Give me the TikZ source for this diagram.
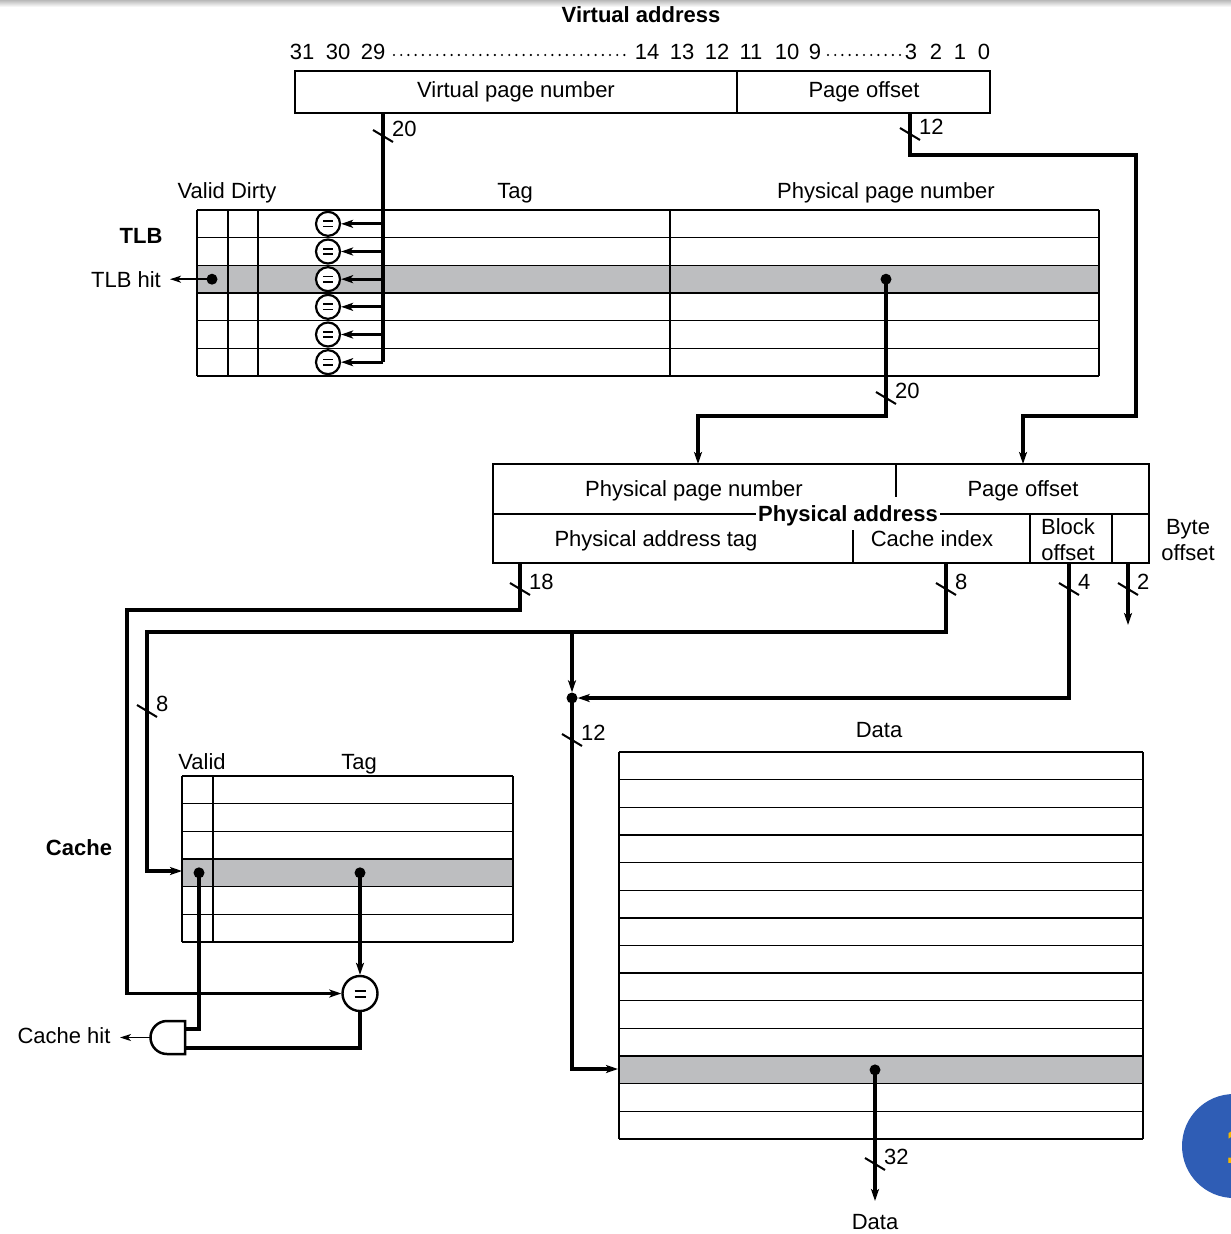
\documentclass[tikz,border=0pt]{standalone}
\usepackage{fontspec}
\setmainfont{Liberation Sans}
\usetikzlibrary{arrows.meta}
\definecolor{rowgray}{RGB}{189,190,192}
\definecolor{badgeblue}{RGB}{47,93,181}
\definecolor{badgeyellow}{RGB}{245,184,0}
\newcommand\busmark[4]{%
  \draw[bus] ({#1-10},{#2-6}) -- ({#1+10},{#2+6});
  \node[lab, anchor=west] (#4) at ({#1+9},{#2-8}) {#3};}
\begin{document}
\begin{tikzpicture}[x=1pt,y=-1pt,
  font=\fontsize{22}{26}\selectfont,
  lab/.style={inner sep=0pt, text height=16pt, text depth=0pt},
  blab/.style={lab, font=\fontsize{22}{26}\selectfont\bfseries},
  conn/.style={line width=3.2pt},
  tabl/.style={line width=1.4pt},
  bus/.style={line width=2pt},
  arr/.style={conn, -{Stealth[length=12pt,width=8pt,inset=3pt]}},
  tarr/.style={line width=1.8pt, -{Stealth[length=11pt,width=7pt,inset=3pt]}},
  bigdot/.style={circle, fill=black, inner sep=0pt, minimum size=11pt},
  eqc/.style={circle, draw, line width=2.2pt, inner sep=0pt, minimum size=24pt, fill=white,
    path picture={\draw[line width=1.8pt]
      ([shift={(-4.8pt,2.6pt)}]path picture bounding box.center) -- ++(9.6pt,0pt)
      ([shift={(-4.8pt,-2.6pt)}]path picture bounding box.center) -- ++(9.6pt,0pt);}},
]
\useasboundingbox (0,0) rectangle (1231,1234);
\fill[white] (0,0) rectangle (1231,1234);
\shade[top color=gray!55, bottom color=white] (0,0) rectangle (1231,7);

% ---------------- Virtual address ----------------
\node[blab] (vatitle) at (641,15) {Virtual address};
\foreach \n/\x in {31/302,30/338,29/373,14/647,13/682,12/717,11/751,10/787,9/815,3/911,2/936,1/960,0/984}
  \node[lab] (b\n) at (\x,51) {\n};
\draw[line width=2.4pt, line cap=round, dash pattern=on 0pt off 7.2pt] (394,55) -- (628,55);
\draw[line width=2.4pt, line cap=round, dash pattern=on 0pt off 7.2pt] (828,55) -- (901,55);
\draw[tabl] (295,71) rectangle (990,113);
\draw[tabl] (737,71) -- (737,113);
\node[lab] (vpn) at (516,89) {Virtual page number};
\node[lab] (vpo) at (864,89) {Page offset};
\coordinate (vpnout) at (383,113);
\coordinate (vpoout) at (910,113);

% ---------------- TLB ----------------
\node[lab] (tlbvd) at (227,190) {Valid Dirty};
\node[lab] (tlbtag) at (515,190) {Tag};
\node[lab] (tlbppn) at (886,190) {Physical page number};
\node[blab] (tlblabel) at (141,235) {TLB};
\fill[rowgray] (197,265.3) rectangle (1099,293);
\foreach \i in {0,...,6}
  \draw[tabl] (197,{210+27.667*\i}) -- (1099,{210+27.667*\i});
\foreach \x in {197,228,258,1099}
  \draw[tabl] (\x,210) -- (\x,376);
\draw[line width=2.2pt] (670,210) -- (670,376);
\draw[conn] (vpnout) -- (383,362.2);
\foreach \i in {1,...,6}{
  \node[eqc] (eq\i) at (328,{210+27.667*(\i-0.5)}) {};
  \coordinate (vb\i) at (383,{210+27.667*(\i-0.5)});
  \draw[arr, line width=2.8pt] (vb\i) -- (eq\i.east);
}
\node[bigdot] (tlbhitdot) at (212,279.2) {};
\coordinate (tlbhitend) at (170,279.2);
\node[lab] (tlbhit) at (126,279) {TLB hit};
\draw[tarr] (tlbhitdot.center) -- (tlbhitend);
\node[bigdot] (ppndot) at (886,279.2) {};

% ---------------- Physical address ----------------
\draw[tabl] (493,464) rectangle (1149,563);
\draw[tabl] (493,514) -- (1149,514);
\draw[tabl] (896,464) -- (896,497);
\draw[tabl] (853,530) -- (853,563);
\draw[tabl] (1030,514) -- (1030,563);
\draw[tabl] (1112,514) -- (1112,563);
\node[lab] (pappn) at (694,488) {Physical page number};
\node[lab] (papo) at (1023,488) {Page offset};
\node[blab, fill=white, inner xsep=2pt] (patitle) at (848,513) {Physical address};
\node[lab] (patag) at (656,538) {Physical address tag};
\node[lab] (paidx) at (932,538) {Cache index};
\node[lab] (blk1) at (1068,526) {Block};
\node[lab] (blk2) at (1068,552) {offset};
\node[lab] (byt1) at (1188,526) {Byte};
\node[lab] (byt2) at (1188,552) {offset};
\coordinate (ppnin) at (698,464);
\coordinate (poin) at (1023,464);

% TLB -> physical address
\draw[arr] (vpoout) -- (910,155) -- (1136,155) -- (1136,416) -- (1023,416) -- (poin);
\draw[arr] (ppndot.center) -- (886,416) -- (698,416) -- (ppnin);
\busmark{383}{136}{20}{l20a}
\busmark{910}{134}{12}{l12a}
\busmark{886}{398}{20}{l20b}

% ---------------- Cache ----------------
\node[lab] (cvalid) at (202,761) {Valid};
\node[lab] (ctag) at (359,761) {Tag};
\node[blab] (clabel) at (79,847) {Cache};
\fill[rowgray] (182,859) rectangle (513,886.7);
\foreach \i in {0,...,6}
  \draw[tabl] (182,{776+27.667*\i}) -- (513,{776+27.667*\i});
\foreach \x in {182,213,513}
  \draw[tabl] (\x,776) -- (\x,942);
\node[bigdot] (cvaldot) at (199,872.8) {};
\node[bigdot] (ctagdot) at (360,872.8) {};
\coordinate (crowin) at (182,871);
\node[circle, draw, line width=2.4pt, minimum size=35pt, inner sep=0pt, fill=white,
  path picture={\draw[line width=2pt]
      ([shift={(-5.5pt,3pt)}]path picture bounding box.center) -- ++(11pt,0pt)
      ([shift={(-5.5pt,-3pt)}]path picture bounding box.center) -- ++(11pt,0pt);}]
  (cmp) at (360,993.5) {};
% AND gate
\draw[line width=2.5pt, fill=white] (185,1021) -- (167,1021) arc[start angle=90, end angle=270, radius=16.5pt] -- (185,1054) -- cycle;
\coordinate (andin1) at (185,1029);
\coordinate (andin2) at (185,1048);
\coordinate (andout) at (150.5,1037.5);
\coordinate (chitend) at (120,1037.5);
\node[lab] (chit) at (64,1035) {Cache hit};
\draw[tarr] (andout) -- (chitend);
\draw[conn] (cvaldot.center) -- (199,1029) -- (andin1);
\draw[conn] (cmp.south) -- (360,1048) -- (andin2);
\draw[arr] (ctagdot.center) -- (cmp.north);

% ---------------- Data ----------------
\node[lab] (dtitle) at (879,729) {Data};
\fill[rowgray] (619,{752+27.643*11}) rectangle (1143,{752+27.643*12});
\foreach \i in {0,...,14}
  \draw[tabl] (619,{752+27.643*\i}) -- (1143,{752+27.643*\i});
\foreach \x in {619,1143}
  \draw[tabl] (\x,752) -- (\x,1139);
\node[bigdot] (datadot) at (875,{752+27.643*11.5}) {};
\coordinate (dataout) at (875,1201);
\node[lab] (dout) at (875,1221) {Data};
\coordinate (datain) at (618,1069);
\draw[arr] (datadot.center) -- (dataout);

% ---------------- Physical address -> cache ----------------
\coordinate (tagout) at (520,563);
\coordinate (idxout) at (946,563);
\coordinate (blkout) at (1069,563);
\coordinate (bytout) at (1128,563);
\coordinate (bytend) at (1128,625);
\node[bigdot] (joindot) at (572,698) {};
\draw[arr] (tagout) -- (520,610) -- (127,610) -- (127,993.5) -- (cmp.west);
\draw[arr] (idxout) -- (946,632) -- (147,632) -- (147,871) -- (crowin);
\draw[arr] (572,632) -- (joindot.north);
\draw[arr] (blkout) -- (1069,698) -- (joindot.east);
\draw[arr] (joindot.center) -- (572,1069) -- (datain);
\draw[arr] (bytout) -- (bytend);
\busmark{520}{589}{18}{l18}
\busmark{946}{589}{8}{l8a}
\busmark{1069}{589}{4}{l4}
\busmark{1128}{589}{2}{l2}
\busmark{147}{711}{8}{l8b}
\busmark{572}{740}{12}{l12b}
\busmark{875}{1164}{32}{l32}

% ---------------- badge ----------------
\begin{scope}
\clip (0,0) rectangle (1231,1234);
\fill[badgeblue] (1234,1146) circle (52pt);
\node[font=\fontsize{52}{56}\selectfont\bfseries, text=badgeyellow, inner sep=0pt] (badge) at (1240,1146) {1};
\end{scope}
\end{tikzpicture}
\end{document}
